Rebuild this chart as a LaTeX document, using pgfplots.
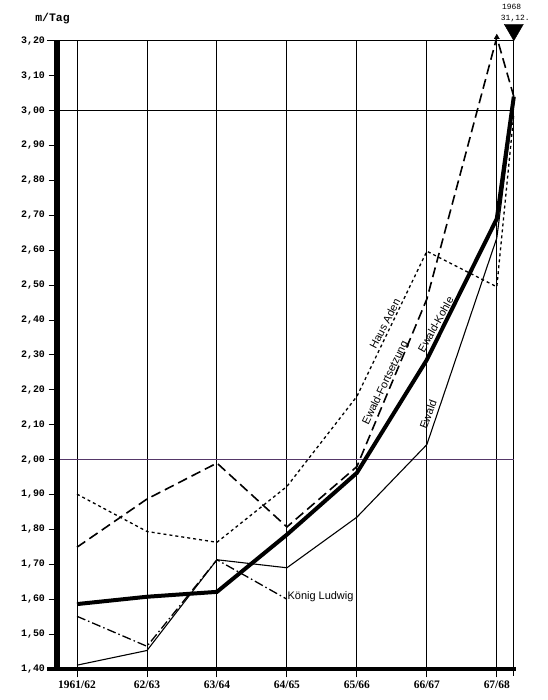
\documentclass[border=0pt]{standalone}
\usepackage{fontspec}
\setmainfont{Liberation Serif}
\setsansfont{Liberation Sans}
\setmonofont{Liberation Mono}
\usepackage{pgfplots}
\pgfplotsset{compat=1.18}
\definecolor{gridpurple}{RGB}{85,55,105}
\begin{document}
\begin{tikzpicture}[x=1bp,y=1bp]
\path[use as bounding box] (0,0) rectangle (548,700);
\begin{axis}[
  at={(57bp,31bp)}, anchor=south west,
  scale only axis, width=456.8bp, height=628.2bp,
  xmin=-0.286, xmax=6.243, ymin=1.4, ymax=3.2,
  axis line style={draw=none},
  clip=false,
  tick pos=left,
  tick align=outside,
  major tick length=8.5bp,
  tick style={black, line width=0.9bp},
  xtick={0,1,2,3,4,5,6},
  xticklabels={1961/62,62/63,63/64,64/65,65/66,66/67,67/68},
  ytick={1.4,1.5,1.6,1.7,1.8,1.9,2.0,2.1,2.2,2.3,2.4,2.5,2.6,2.7,2.8,2.9,3.0,3.1,3.2},
  yticklabels={{1,40},{1,50},{1,60},{1,70},{1,80},{1,90},{2,00},{2,10},{2,20},{2,30},{2,40},{2,50},{2,60},{2,70},{2,80},{2,90},{3,00},{3,10},{3,20}},
  xmajorgrids=true,
  grid style={black, line width=0.9bp},
  xticklabel style={font=\rmfamily\bfseries\fontsize{11.5}{12}\selectfont},
  yticklabel style={font=\ttfamily\bfseries\fontsize{10}{12}\selectfont},
]
% frame and grid lines
\draw[black, line width=0.9bp] ([yshift=-7bp]axis cs:6.243,1.4) -- (axis cs:6.243,3.2);
\draw[black, line width=1.2bp] ([xshift=-10bp]axis cs:-0.286,3.2) -- (axis cs:6.243,3.2);
\draw[black, line width=1.1bp] (axis cs:-0.286,3.0) -- (axis cs:6.243,3.0);
\draw[gridpurple, line width=1.1bp] (axis cs:-0.286,2.0) -- (axis cs:6.243,2.0);
\draw[black, line width=5.5bp] (axis cs:-0.286,1.4) -- (axis cs:-0.286,3.2);
\draw[black, line width=4.3bp] ([xshift=-10bp]axis cs:-0.286,1.4) -- ([xshift=2bp]axis cs:6.243,1.4);

% Ewald (thin solid)
\addplot[black, line width=1.1bp] coordinates {(0,1.411) (1,1.453) (2,1.713) (3,1.690) (4,1.835) (5,2.043) (6,2.635) (6.243,3.02)};
% König Ludwig (dash-dot)
\addplot[black, line width=1.3bp, dash pattern=on 9bp off 3bp on 1.5bp off 3bp] coordinates {(0,1.551) (1,1.465) (2,1.713) (3,1.600)};
% Ewald-Fortsetzung (long dashes)
\addplot[black, line width=1.6bp, dash pattern=on 10bp off 5bp] coordinates {(0,1.749) (1,1.887) (2,1.990) (3,1.807) (4,1.980) (5,2.460) (6,3.210) (6.243,3.04)};
% Haus Aden (short dashes)
\addplot[black, line width=1.3bp, dash pattern=on 3bp off 3bp] coordinates {(0,1.901) (1,1.794) (2,1.763) (3,1.923) (4,2.181) (5,2.597) (6,2.495) (6.243,2.99)};
% Ewald-Kohle (thick solid)
\addplot[black, line width=4bp] coordinates {(0,1.586) (1,1.607) (2,1.621) (3,1.785) (4,1.962) (5,2.286) (6,2.690) (6.243,3.04)};

% markers
\addplot[only marks, mark=triangle*, mark size=3bp, black] coordinates {(6,3.21)};
\addplot[only marks, mark=triangle*, mark size=11bp, mark options={rotate=180, fill=black, draw=black}] coordinates {(6.243,3.2315)};

% curve labels
\node[font=\sffamily\fontsize{11}{12}\selectfont, rotate=62.7] at (axis cs:4.40,2.389) {Haus Aden};
\node[font=\sffamily\fontsize{11}{12}\selectfont, rotate=64.3] at (axis cs:4.411,2.219) {Ewald-Fortsetzung};
\node[font=\sffamily\fontsize{11}{12}\selectfont, rotate=60.8] at (axis cs:5.126,2.387) {Ewald-Kohle};
\node[font=\sffamily\fontsize{11}{12}\selectfont, rotate=69.5] at (axis cs:5.019,2.129) {Ewald};
\node[font=\sffamily\fontsize{11}{12}\selectfont, anchor=west, inner sep=0.5bp] at (axis cs:3,1.607) {König Ludwig};
\end{axis}
\node[font=\ttfamily\bfseries\fontsize{11.5}{12}\selectfont] at (52.5,681.7) {m/Tag};
\node[font=\ttfamily\fontsize{8}{9}\selectfont] at (511.7,692.7) {1968};
\node[font=\ttfamily\fontsize{8}{9}\selectfont] at (515.3,681.7) {31,12.};
\end{tikzpicture}
\end{document}
